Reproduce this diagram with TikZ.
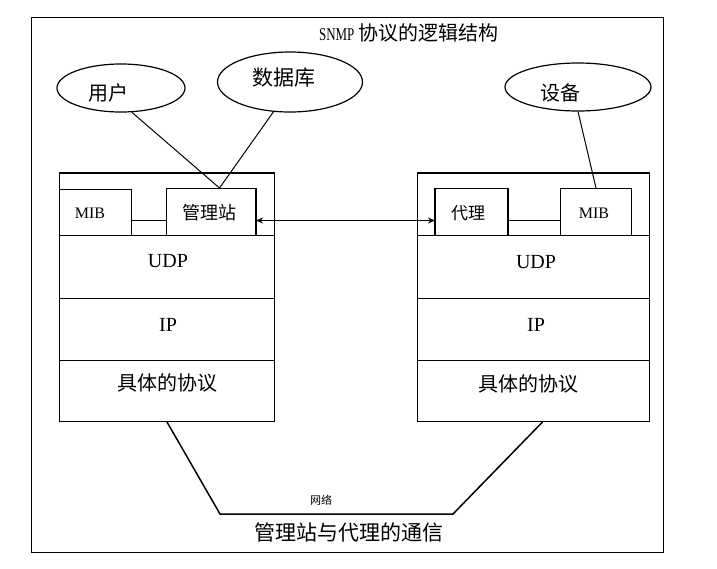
\documentclass[tikz,border=0pt]{standalone}
\usepackage{fontspec}
\usepackage{graphicx}
\setmainfont{Liberation Serif}
\newfontfamily\cjk{Noto Sans CJK SC}
\usetikzlibrary{shapes.geometric,arrows.meta,calc}
\begin{document}
\begin{tikzpicture}[x=1pt,y=-1pt,
  rowbox/.style={draw,line width=1pt,inner sep=0pt,anchor=north west},
  inbox/.style={draw,line width=1pt,inner sep=0pt,anchor=north west},
  oval/.style={draw,ellipse,line width=1.2pt,inner sep=0pt},
  thickedge/.style={line width=2pt},
  conn/.style={line width=1pt},
  lat/.style={font=\fontsize{20}{20}\selectfont,inner sep=0pt},
  zh/.style={font=\cjk\fontsize{20}{20}\selectfont,inner sep=0pt},
  net/.style={line width=1.5pt,line join=miter}]
\useasboundingbox (0,0) rectangle (717,568);
% outer frame
\draw[line width=1pt] (31,17) rectangle (663,552);
\node[zh] (title) at (409,33) {{\rmfamily\fontsize{18}{18}\selectfont\scalebox{0.72}[1]{SNMP}} 协议的逻辑结构};

% left stack
\node[rowbox,minimum width=215,minimum height=62] (ltop) at (59,173) {};
\node[rowbox,minimum width=215,minimum height=63] (ludp) at (59,235) {};
\node[rowbox,minimum width=215,minimum height=62] (lip) at (59,298) {};
\node[rowbox,minimum width=215,minimum height=61] (lproto) at (59,360) {};
\draw[thickedge] (ltop.north west) -- (ltop.north east);
\node[inbox,minimum width=72,minimum height=46] (lmib) at (59,189) {};
\node[inbox,minimum width=89,minimum height=47] (mgr) at (166,188) {};
\draw[thickedge] (mgr.north east) -- (mgr.south east);
\node[lat,font=\fontsize{16}{16}\selectfont] (lmibt) at (90,213) {MIB};
\node[zh,font=\cjk\fontsize{18}{18}\selectfont] (mgrt) at (209,213) {管理站};
\node[lat] (ludpt) at (168,261) {UDP};
\node[lat] (lipt) at (168,325) {IP};
\node[zh] (lprotot) at (167,383) {具体的协议};

% right stack
\node[rowbox,minimum width=232,minimum height=62] (rtop) at (417,173) {};
\node[rowbox,minimum width=232,minimum height=63] (rudp) at (417,235) {};
\node[rowbox,minimum width=232,minimum height=62] (rip) at (417,298) {};
\node[rowbox,minimum width=232,minimum height=61] (rproto) at (417,360) {};
\draw[thickedge] (rtop.north west) -- (rtop.north east);
\node[inbox,minimum width=72,minimum height=47] (agent) at (435,188) {};
\draw[thickedge] (agent.north west) -- (agent.south west);
\draw[thickedge] (agent.north east) -- (agent.south east);
\node[inbox,minimum width=71,minimum height=47] (rmib) at (560,188) {};
\node[zh,font=\cjk\fontsize{17}{17}\selectfont] (agentt) at (468,213) {代理};
\node[lat,font=\fontsize{16}{16}\selectfont] (rmibt) at (594,213) {MIB};
\node[lat] (rudpt) at (536,262) {UDP};
\node[lat] (ript) at (536,325) {IP};
\node[zh] (rprotot) at (528,384) {具体的协议};

% inner connectors
\draw[conn] ([yshift=-8pt]lmib.east) -- ([yshift=-8.5pt]mgr.west);
\draw[conn] ([yshift=-8.5pt]agent.east) -- ([yshift=-8.5pt]rmib.west);
\draw[conn,{Stealth[length=7pt,width=6pt]}-{Stealth[length=7pt,width=6pt]}] ([yshift=-8.5pt]mgr.east) -- ([yshift=-8.5pt]agent.west);

% ellipses
\node[oval,minimum width=128,minimum height=48] (user) at (121,88) {};
\node[zh] (usert) at (108,93) {用户};
\node[oval,minimum width=145,minimum height=60] (db) at (290,82) {};
\node[zh,font=\cjk\fontsize{21}{21}\selectfont] (dbt) at (284,78) {数据库};
\node[oval,minimum width=146,minimum height=48] (dev) at (578,87) {};
\node[zh] (devt) at (560,93) {设备};

\coordinate (mgrtop) at ([xshift=8.5pt]mgr.north);
\draw[conn] (user.-66) -- (mgrtop);
\draw[conn] (db.-119) -- (mgrtop);
\draw[conn] (dev.south) -- (rmib.north);

% network
\coordinate (netl) at (220,514);
\coordinate (netr) at (453,514);
\draw[net] (lproto.south) -- (netl) -- (netr) -- ([xshift=9pt]rproto.south);
\node[zh,font=\cjk\fontsize{11}{11}\selectfont] (nett) at (321,500) {网络};
\node[zh,font=\cjk\fontsize{21}{21}\selectfont] (cap) at (349,532) {管理站与代理的通信};
\end{tikzpicture}
\end{document}
